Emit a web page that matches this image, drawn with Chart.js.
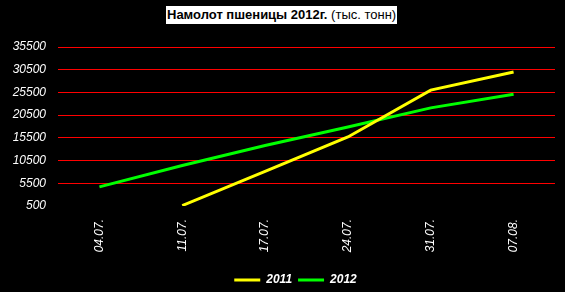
<!DOCTYPE html>
<html>
<head>
<meta charset="utf-8">
<script src="https://cdn.jsdelivr.net/npm/chart.js@4"></script>
<style>
  html, body { margin: 0; padding: 0; background: #000; }
  #wrap { position: relative; width: 565px; height: 292px; background: #000; overflow: hidden; }
  #title {
    position: absolute; top: 6px; left: 166px; height: 18px; line-height: 18px;
    background: #fff; color: #000; padding: 0 1px; white-space: nowrap;
    font-family: "Liberation Sans", Arial, sans-serif; font-size: 13px;
  }
  #title b { font-weight: bold; }
  canvas { position: absolute; left: 0; top: 0; }
</style>
</head>
<body>
<div id="wrap">
  <canvas id="c" width="565" height="292"></canvas>
  <div id="title"><b>Намолот пшеницы 2012г.</b> (тыс. тонн)</div>
</div>
<script>
const categories = ['04.07.', '11.07.', '17.07.', '24.07.', '31.07.', '07.08.'];
const series2011 = [null, 600, 8100, 15700, 26000, 30000];
const series2012 = [4700, 9400, 13800, 17900, 22100, 25100];
const seriesNames = ['2011', '2012'];
const yMin = 500, yMax = 35500, yStep = 5000;

const FONT = '"Liberation Sans", Arial, sans-serif';

// shift the legend box to where the reference places it
const legendShift = {
  id: 'legendShift',
  afterLayout(chart) {
    const lg = chart.legend;
    if (!lg) return;
    const dx = 18, dy = 4;
    lg.left += dx; lg.right += dx; lg.top += dy; lg.bottom += dy;
  }
};

new Chart(document.getElementById('c'), {
  type: 'line',
  data: {
    labels: categories,
    datasets: [
      { label: seriesNames[0], data: series2011, borderColor: '#ffff00', backgroundColor: '#ffff00',
        borderWidth: 3, pointRadius: 0, pointHoverRadius: 0, tension: 0, spanGaps: false, pointStyle: 'line' },
      { label: seriesNames[1], data: series2012, borderColor: '#00ff00', backgroundColor: '#00ff00',
        borderWidth: 3, pointRadius: 0, pointHoverRadius: 0, tension: 0, pointStyle: 'line' }
    ]
  },
  plugins: [legendShift],
  options: {
    responsive: false,
    devicePixelRatio: 1,
    animation: false,
    layout: { padding: { top: 47, right: 10, left: 0, bottom: 0 } },
    plugins: {
      title: { display: false },
      tooltip: { enabled: false },
      legend: {
        position: 'bottom',
        labels: {
          usePointStyle: true,
          pointStyleWidth: 26,
          color: '#fff',
          padding: 6,
          font: { family: FONT, size: 12, style: 'italic', weight: 'bold' }
        }
      }
    },
    scales: {
      x: {
        offset: true,
        grid: { display: false, drawTicks: false },
        border: { display: false },
        ticks: {
          color: '#fff', minRotation: 90, maxRotation: 90, padding: 13,
          font: { family: FONT, size: 12, style: 'italic' }
        },
        afterFit: (s) => { s.height = 58; }
      },
      y: {
        min: yMin, max: yMax,
        grid: {
          color: (ctx) => (ctx.tick && ctx.tick.value === yMin) ? 'rgba(0,0,0,0)' : '#ff0000',
          lineWidth: 1, drawTicks: false
        },
        border: { display: false },
        ticks: {
          stepSize: yStep, color: '#fff', padding: 12,
          font: { family: FONT, size: 12, style: 'italic' },
          callback: (v) => String(v)
        },
        afterFit: (s) => { s.width = 58; }
      }
    }
  }
});
</script>
</body>
</html>
